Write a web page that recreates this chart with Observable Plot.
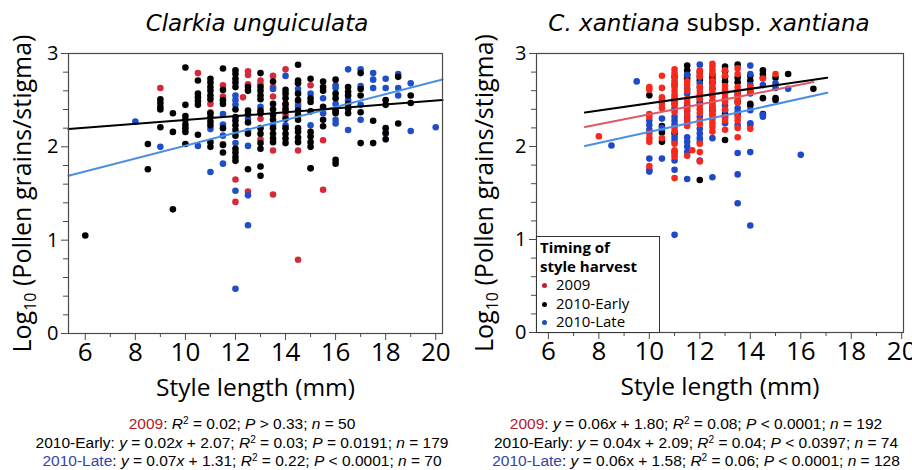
<!DOCTYPE html>
<html><head><meta charset="utf-8">
<script src="https://cdn.jsdelivr.net/npm/d3@7"></script>
<script src="https://cdn.jsdelivr.net/npm/@observablehq/plot@0.6"></script>
<style>
body{margin:0;background:#fff;}
#root{position:relative;width:912px;height:470px;overflow:hidden;font-family:"Open Sans",sans-serif;color:#000;}
.panel{position:absolute;top:0;width:456px;height:410px;}
.title{position:absolute;top:11.5px;font-family:"DejaVu Sans";font-size:23px;line-height:1;white-space:nowrap;transform:translateX(-50%);z-index:3;}
.title i{font-style:oblique;}
.caption{position:absolute;top:415px;font-family:"Liberation Sans",Arial,sans-serif;font-size:15.5px;line-height:18.5px;text-align:center;white-space:nowrap;transform:translateX(-50%);}
.caption sup{font-size:0.65em;line-height:0;vertical-align:0.5em;}
.legend{position:absolute;left:536px;top:236px;width:122px;height:94px;border:1px solid #333;background:#fff;z-index:5;font-family:"Open Sans",sans-serif;font-size:15px;line-height:18.5px;padding-top:1px;}
.legend .lh{font-weight:bold;padding-left:3px;}
.legend .li{position:relative;padding-left:19px;}
.legend .ld{position:absolute;left:5px;top:8px;width:5px;height:5px;border-radius:50%;}
</style>
</head><body>
<div id="root">
  <div class="title" style="left:257px"><i>Clarkia unguiculata</i></div>
  <div class="title" style="left:709px"><i>C. xantiana</i> subsp. <i>xantiana</i></div>
  <div class="panel" id="pL" style="left:0"></div>
  <div class="panel" id="pR" style="left:456px"></div>
  <div class="legend" id="legend"></div>
  <div class="caption" style="left:242px">
    <span style="color:#b4202a">2009</span>: <i>R</i><sup>2</sup> = 0.02; <i>P</i> &gt; 0.33; <i>n</i> = 50<br>
    2010-Early: <i>y</i> = 0.02<i>x</i> + 2.07; <i>R</i><sup>2</sup> = 0.03; <i>P</i> = 0.0191; <i>n</i> = 179<br>
    <span style="color:#3345a8">2010-Late</span>: <i>y</i> = 0.07<i>x</i> + 1.31; <i>R</i><sup>2</sup> = 0.22; <i>P</i> &lt; 0.0001; <i>n</i> = 70
  </div>
  <div class="caption" style="left:696px">
    <span style="color:#b4202a">2009</span>: <i>y</i> = 0.06<i>x</i> + 1.80; <i>R</i><sup>2</sup> = 0.08; <i>P</i> &lt; 0.0001; <i>n</i> = 192<br>
    2010-Early: <i>y</i> = 0.04x + 2.09; <i>R</i><sup>2</sup> = 0.04; <i>P</i> &lt; 0.0397; <i>n</i> = 74<br>
    <span style="color:#3345a8">2010-Late</span>: <i>y</i> = 0.06x + 1.58; <i>R</i><sup>2</sup> = 0.06; <i>P</i> &lt; 0.0001; <i>n</i> = 128
  </div>
</div>
<script>
// ---------- tick values & labels ----------
const xMajorTicks = [6, 8, 10, 12, 14, 16, 18, 20];
const xMinorTicks = [7, 9, 11, 13, 15, 17, 19];
const yMajorTicks = [0, 1, 2, 3];
const yMinorTicks = [0.2, 0.4, 0.6, 0.8, 1.2, 1.4, 1.6, 1.8, 2.2, 2.4, 2.6, 2.8];
const xAxisLabel = "Style length (mm)";
const yAxisLabel = "Log10 (Pollen grains/stigma)";
const groups = ["2009", "2010-Early", "2010-Late"];
const legendTitle = ["Timing of", "style harvest"];

// ---------- Clarkia unguiculata: [style length, log10 pollen] ----------
const cu2009 = [[9,2.63],[10.5,2.79],[11,2.46],[11,2.37],[11.5,2.66],[11.5,2.54],[11.5,2.03],[12,1.65],[12,1.41],[12.3,2.53],[12.5,2.81],[12.5,2.77],[12.5,2.67],[12.5,1.52],[13,2.71],[13,2.67],[13,2.30],[13,2.08],[13.5,2.76],[13.5,2.64],[13.5,2.54],[13.5,1.96],[13.5,1.49],[14,2.83],[14,2.45],[14,2.34],[14.5,2.46],[14.5,1.96],[14.5,0.79],[15,2.66],[15.5,2.07],[15.5,1.54],[16,2.38]];
const cuEarly = [[6,1.05],[8.5,2.03],[8.5,1.76],[9,2.51],[9,2.47],[9,2.43],[9,2.40],[9,2.21],[9.5,2.36],[9.5,2.16],[9.5,1.33],[10,2.85],[10,2.45],[10,2.33],[10,2.29],[10,2.24],[10,2.20],[10,2.16],[10,2.03],[10.5,2.71],[10.5,2.57],[10.5,2.53],[10.5,2.49],[10.5,2.45],[10.5,2.13],[11,2.73],[11,2.69],[11,2.64],[11,2.60],[11,2.55],[11,2.51],[11,2.36],[11,2.32],[11,2.27],[11,2.23],[11,2.05],[11,2.00],[11.5,2.84],[11.5,2.61],[11.5,2.50],[11.5,2.46],[11.5,2.20],[11.5,2.02],[11.5,1.94],[12,2.82],[12,2.78],[12,2.73],[12,2.69],[12,2.64],[12,2.40],[12,2.32],[12,2.28],[12,2.23],[12,2.18],[12,2.12],[12,1.98],[12,1.94],[12,1.89],[12,1.85],[12.5,2.64],[12.5,2.60],[12.5,2.39],[12.5,2.35],[12.5,2.26],[12.5,2.14],[12.5,1.76],[13,2.79],[13,2.64],[13,2.60],[13,2.55],[13,2.51],[13,2.39],[13,2.36],[13,2.20],[13,2.14],[13,2.04],[13,1.98],[13,1.79],[13,1.69],[13.5,2.70],[13.5,2.46],[13.5,2.40],[13.5,2.34],[13.5,2.29],[13.5,2.20],[13.5,2.14],[13.5,2.09],[13.5,2.05],[14,2.61],[14,2.57],[14,2.52],[14,2.46],[14,2.41],[14,2.38],[14,2.30],[14,2.20],[14,2.14],[14,2.09],[14,2.04],[14.5,2.88],[14.5,2.71],[14.5,2.68],[14.5,2.57],[14.5,2.50],[14.5,2.39],[14.5,2.34],[14.5,2.29],[14.5,2.20],[14.5,2.16],[14.5,2.10],[14.5,2.05],[15,2.73],[15,2.52],[15,2.48],[15,2.38],[15,2.16],[15,2.11],[15,2.05],[15,2.00],[15,1.77],[15.5,2.70],[15.5,2.64],[15.5,2.60],[15.5,2.43],[15.5,2.29],[15.5,2.22],[16,2.72],[16,2.57],[16,2.52],[16,2.39],[16,2.36],[16,1.86],[16,1.82],[16.5,2.64],[16.5,2.59],[16.5,2.55],[16.5,2.46],[16.5,2.41],[16.5,2.36],[17,2.79],[17,2.62],[17,2.55],[17,2.37],[17,2.04],[17.5,2.28],[17.5,2.04],[18,2.50],[18,2.45],[18,2.20],[18,2.15],[18,2.08],[18.5,2.75],[18.5,2.25],[19,2.55],[19,2.47]];
const cuLate = [[8,2.27],[9,2.00],[10.5,2.01],[11,2.19],[11,1.73],[11.5,2.35],[11.5,2.24],[11.5,2.12],[11.5,1.82],[12,2.55],[12,2.50],[12,2.45],[12,2.04],[12,1.53],[12,0.48],[12.5,2.30],[12.5,2.17],[12.5,2.01],[12.5,1.48],[12.5,1.16],[13,2.43],[13.5,2.62],[13.5,2.23],[14,2.76],[14,2.23],[14.5,2.62],[14.5,2.43],[15,2.57],[15,2.23],[15,1.77],[15.5,2.52],[15.5,2.36],[16,2.66],[16,2.63],[16,2.46],[16,2.29],[16,2.25],[16.5,2.83],[16.5,2.50],[16.5,2.18],[17,2.83],[17,2.65],[17,2.45],[17,2.29],[17.5,2.79],[17.5,2.72],[17.5,2.63],[18,2.73],[18,2.63],[18,2.14],[18.5,2.78],[18.5,2.63],[18.5,2.55],[19,2.68],[19,2.17],[20,2.21]];
// fitted lines: slope, intercept, x-extent
const cuFitGroups = ["2010-Early", "2010-Late"];
const cuFitSlope = [0.0208, 0.069];
const cuFitIntercept = [2.079, 1.322];
const cuFitFrom = [5.33, 5.33];
const cuFitTo = [20.27, 20.27];

// ---------- C. xantiana subsp. xantiana ----------
const cx2009 = [[8,2.11],[10,2.64],[10,2.61],[10,2.35],[10,2.32],[10,2.14],[10,2.09],[10,2.05],[10,1.79],[10.5,2.76],[10.5,2.63],[10.5,2.53],[10.5,2.50],[10.5,2.46],[10.5,2.41],[10.5,2.09],[11,2.83],[11,2.79],[11,2.75],[11,2.71],[11,2.68],[11,2.64],[11,2.60],[11,2.56],[11,2.53],[11,2.49],[11,2.45],[11,2.37],[11,2.20],[11,2.16],[11,2.03],[11,1.96],[11,1.92],[11,1.89],[11,1.66],[11.5,2.70],[11.5,2.66],[11.5,2.60],[11.5,2.51],[11.5,2.47],[11.5,2.40],[11.5,2.34],[11.5,2.28],[11.5,2.22],[11.5,1.90],[11.7,1.96],[12,2.82],[12,2.78],[12,2.75],[12,2.64],[12,2.60],[12,2.56],[12,2.52],[12,2.44],[12,2.40],[12,2.36],[12,2.28],[12,2.24],[12,2.03],[12,1.94],[12,1.84],[12.5,2.89],[12.5,2.86],[12.5,2.82],[12.5,2.78],[12.5,2.71],[12.5,2.67],[12.5,2.63],[12.5,2.58],[12.5,2.54],[12.5,2.49],[12.5,2.45],[12.5,2.41],[12.5,2.37],[12.5,2.33],[12.5,2.29],[12.5,2.25],[12.5,2.21],[12.5,2.16],[13,2.82],[13,2.76],[13,2.65],[13,2.61],[13,2.57],[13,2.52],[13,2.48],[13,2.40],[13,2.32],[13,2.28],[13,2.18],[13.5,2.84],[13.5,2.78],[13.5,2.64],[13.5,2.60],[13.5,2.55],[13.5,2.51],[13.5,2.47],[13.5,2.32],[13.5,2.28],[13.5,2.20],[13.5,2.10],[14,2.64],[14,2.60],[14,2.19],[14.5,2.73],[15,2.78]];
const cxEarly = [[10,2.55],[10.5,2.22],[10.5,2.15],[10.5,2.05],[11,2.75],[11,2.50],[11,2.14],[11.5,2.87],[11.5,2.82],[11.5,2.77],[11.5,2.73],[11.5,2.43],[12,2.80],[12,2.75],[12,2.71],[12,2.47],[12,1.64],[12.5,2.77],[12.5,2.73],[12.5,2.69],[12.5,2.62],[12.5,2.39],[13,2.86],[13,2.81],[13,2.75],[13,2.70],[13,2.58],[13,2.35],[13,2.07],[13.5,2.88],[13.5,2.74],[13.5,2.69],[13.5,2.59],[13.5,2.48],[13.5,2.35],[14,2.76],[14,2.71],[14,2.59],[14,2.46],[14,2.44],[14.5,2.82],[14.5,2.78],[14.5,2.74],[14.5,2.52],[14.5,2.35],[15,2.74],[15,2.52],[15,2.50],[15.5,2.78],[16.5,2.62]];
const cxLate = [[8.5,2.01],[9.5,2.70],[10,2.28],[10,2.23],[10,2.18],[10,1.87],[10,1.75],[10,1.73],[10.5,2.30],[10.5,2.20],[10.5,1.87],[11,2.66],[11,2.46],[11,2.41],[11,2.32],[11,2.28],[11,2.24],[11,2.10],[11,2.06],[11,1.94],[11,1.85],[11,1.75],[11,1.05],[11.5,2.77],[11.5,2.62],[11.5,2.57],[11.5,2.44],[11.5,2.38],[11.5,2.31],[11.5,2.25],[11.5,2.10],[11.5,2.05],[11.5,2.00],[11.5,1.94],[11.5,1.65],[12,2.88],[12,2.68],[12,2.64],[12,2.50],[12,2.32],[12,2.19],[12,2.14],[12,2.09],[12,2.05],[12,1.85],[12.5,2.48],[12.5,2.43],[12.5,2.34],[12.5,2.09],[12.5,1.67],[13,2.44],[13,2.39],[13,2.31],[13,2.25],[13.5,2.56],[13.5,2.41],[13.5,2.37],[13.5,2.23],[13.5,1.93],[13.5,1.70],[13.5,1.39],[14,2.87],[14,2.78],[14,2.66],[14,2.57],[14,2.39],[14,2.25],[14,2.23],[14,1.94],[14,1.15],[14.5,2.66],[14.5,2.34],[14.5,2.32],[15,2.68],[15,2.63],[15.5,2.62],[16,1.91]];
const cxFitGroups = ["2010-Early", "2009", "2010-Late"];
const cxFitSlope = [0.039, 0.0535, 0.0595];
const cxFitIntercept = [2.074, 1.81, 1.563];
const cxFitFrom = [7.45, 7.45, 7.45];
const cxFitTo = [17.05, 16.5, 17.05];

// ---------- styling ----------
const AXIS = "#4a4a4a";

function fitLines(names, slope, icpt, from, to) {
  const rows = [];
  names.forEach((g, i) => {
    for (const xv of [from[i], to[i]]) rows.push({group: g, x: xv, y: slope[i] * xv + icpt[i]});
  });
  return rows;
}

function makePanel(cfg) {
  const marks = [];
  for (const s of cfg.series) {
    marks.push(Plot.dot(s.data, {x: d => d[0], y: d => d[1], r: 3.3, fill: s.color, stroke: "none"}));
  }
  const lines = cfg.lines;
  for (const g of cfg.lineOrder) {
    marks.push(Plot.line(lines.filter(d => d.group === g), {x: "x", y: "y", stroke: cfg.lineColors[g], strokeWidth: 2}));
  }
  marks.push(
    Plot.frame({stroke: AXIS, strokeWidth: 1.2}),
    Plot.axisX({ticks: xMajorTicks, tickSize: 7, tickPadding: 2, fontSize: 26, stroke: AXIS, fill: "#000", label: null, tickFormat: d => String(d)}),
    Plot.axisX({ticks: xMinorTicks, tickSize: 4, tickFormat: () => "", stroke: AXIS, label: null}),
    Plot.axisY({ticks: yMajorTicks, tickSize: 7, tickPadding: 3, fontSize: 20, stroke: AXIS, fill: "#000", label: null, tickFormat: d => String(d)}),
    Plot.axisY({ticks: yMinorTicks, tickSize: 5, tickFormat: () => "", stroke: AXIS, label: null}),
    Plot.text([xAxisLabel], {text: d => d, frameAnchor: "bottom", textAnchor: "middle", dy: 62, lineAnchor: "bottom", fontSize: 24.5, fill: "#000"}),
    Plot.text([yAxisLabel], {text: d => d, frameAnchor: "left", textAnchor: "middle", rotate: -90, dx: cfg.yLabelDx, lineAnchor: "bottom", fontSize: 25, fill: "#000"})
  );
  const svg = Plot.plot({
    width: 456, height: 410,
    marginTop: 53, marginBottom: cfg.marginBottom, marginLeft: cfg.marginLeft, marginRight: cfg.marginRight,
    x: {domain: cfg.xDomain},
    y: {domain: [0, 3]},
    style: {fontFamily: "Open Sans", color: "#000", background: "transparent", overflow: "visible"},
    marks
  });
  // subscript for Log10
  svg.querySelectorAll("text").forEach(t => {
    if (t.textContent === yAxisLabel) {
      const ns = "http://www.w3.org/2000/svg";
      t.textContent = "";
      const a = document.createElementNS(ns, "tspan"); a.textContent = "Log";
      const b = document.createElementNS(ns, "tspan"); b.textContent = "10"; b.setAttribute("font-size", "16"); b.setAttribute("dy", "5");
      const c = document.createElementNS(ns, "tspan"); c.textContent = " (Pollen grains/stigma)"; c.setAttribute("dy", "-5");
      t.append(a, b, c);
    }
  });
  return svg;
}

document.getElementById("pL").append(makePanel({
  xDomain: [5.33, 20.27], marginLeft: 68, marginRight: 14, marginBottom: 77, yLabelDx: -38,
  series: [{data: cu2009, color: "#d42a3c"}, {data: cuLate, color: "#1f4fc8"}, {data: cuEarly, color: "#000"}],
  lines: fitLines(cuFitGroups, cuFitSlope, cuFitIntercept, cuFitFrom, cuFitTo),
  lineOrder: ["2010-Late", "2010-Early"],
  lineColors: {"2010-Early": "#000", "2010-Late": "#4a8fe3"}
}));

document.getElementById("pR").append(makePanel({
  xDomain: [5.53, 20.07], marginLeft: 80, marginRight: 9, marginBottom: 78, yLabelDx: -44,
  series: [{data: cxEarly, color: "#000"}, {data: cxLate, color: "#1e4ac8"}, {data: cx2009, color: "#f5291e"}],
  lines: fitLines(cxFitGroups, cxFitSlope, cxFitIntercept, cxFitFrom, cxFitTo),
  lineOrder: ["2010-Late", "2009", "2010-Early"],
  lineColors: {"2010-Early": "#000", "2009": "#dc5a66", "2010-Late": "#4a8fe3"}
}));

// legend
const legendColors = ["#c41e2b", "#000", "#1e4ac8"];
const lg = document.getElementById("legend");
legendTitle.forEach(t => { const d = document.createElement("div"); d.className = "lh"; d.textContent = t; lg.append(d); });
groups.forEach((g, i) => {
  const d = document.createElement("div"); d.className = "li";
  const s = document.createElement("span"); s.className = "ld"; s.style.background = legendColors[i];
  d.append(s, document.createTextNode(g)); lg.append(d);
});
</script>
</body></html>
